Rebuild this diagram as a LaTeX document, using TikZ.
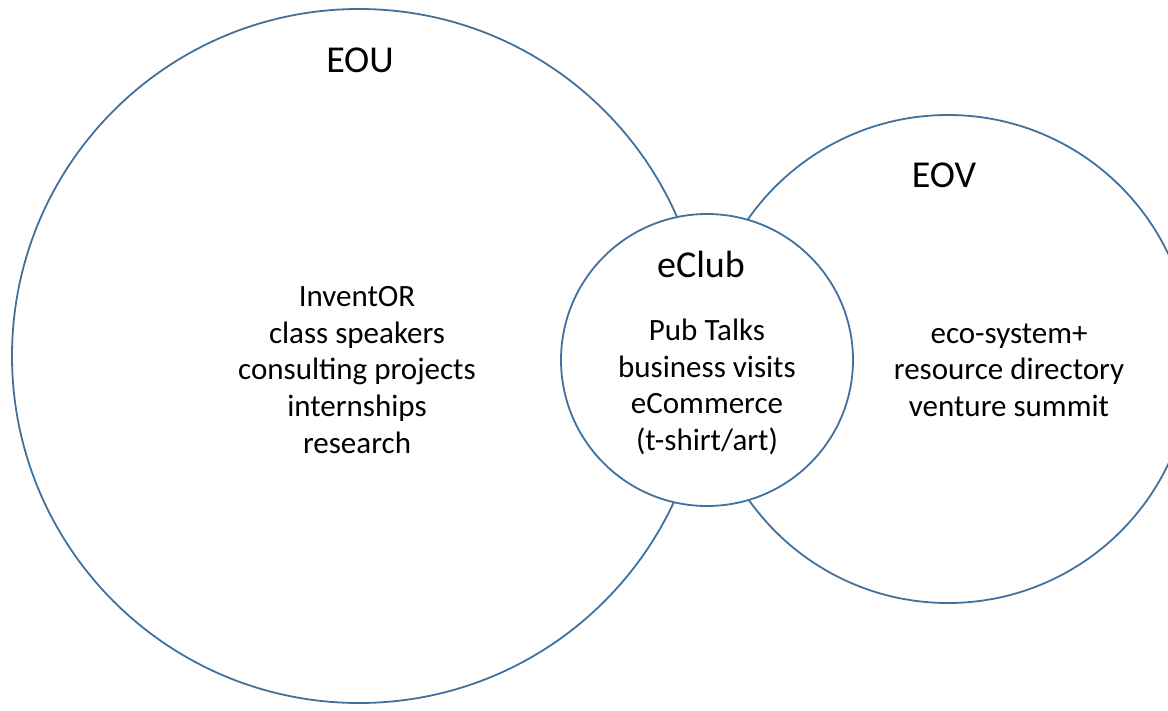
\documentclass[tikz,border=0pt]{standalone}
\usepackage{fontspec}
\setmainfont{Carlito}
\definecolor{ringblue}{RGB}{65,113,156}
\tikzset{
  ring/.style={circle,draw=ringblue,line width=1.8pt,inner sep=0pt},
  title/.style={anchor=base,font=\fontsize{38}{46}\selectfont},
  body/.style={align=center,font=\fontsize{31}{36.6}\selectfont}
}
\begin{document}
\begin{tikzpicture}[x=1pt,y=-1pt]
\useasboundingbox (0,0) rectangle (1168,710);

% circles
\node (eou) [ring,minimum size=694pt] at (359,356) {};
\node (eov) [ring,minimum size=488pt] at (948,359) {};
\node (eclub) [ring,fill=white,minimum size=292pt] at (707,360) {};

% titles
\node (eoutitle) [title] at (360,72) {EOU};
\node (eovtitle) [title] at (944,187) {EOV};
\node (eclubtitle) [title] at (701,277) {eClub};

% lists
\node (eoulist) [body] at (357,370) {InventOR\\class speakers\\consulting projects\\internships\\research};
\node (eclublist) [body] at (707,387) {Pub Talks\\business visits\\eCommerce\\(t-shirt/art)};
\node (eovlist) [body] at (1009,370) {eco-system+\\resource directory\\venture summit};
\end{tikzpicture}
\end{document}
